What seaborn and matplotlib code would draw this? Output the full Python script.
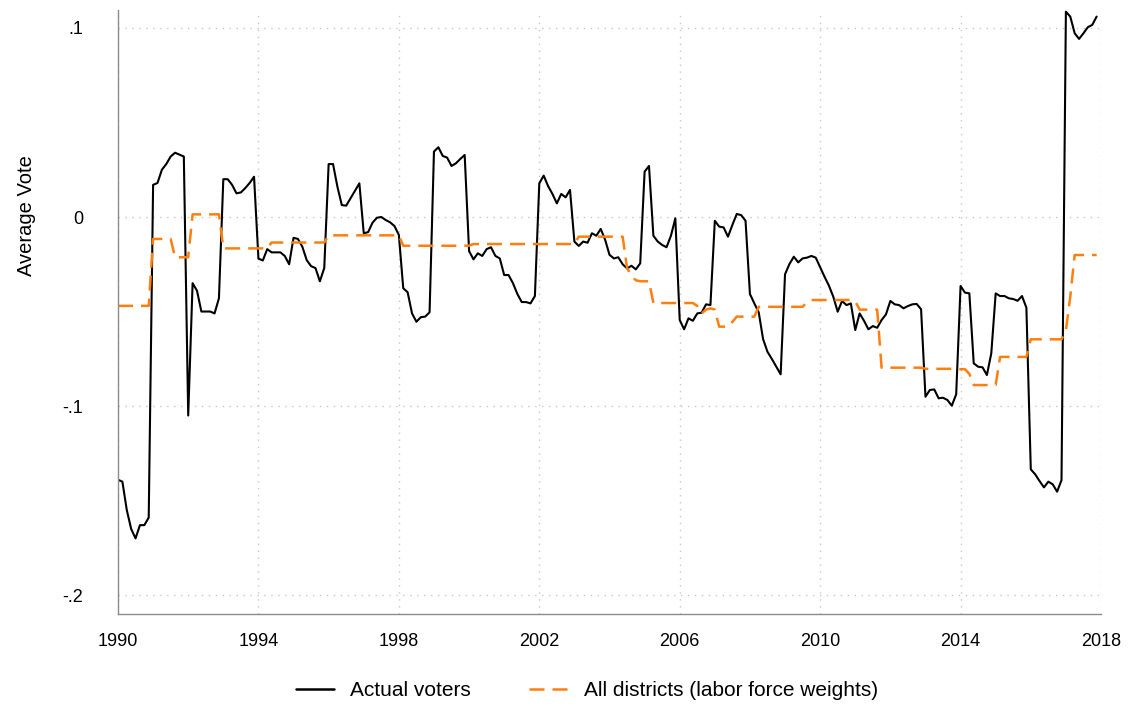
import numpy as np
import pandas as pd
import matplotlib
matplotlib.use("Agg")
import matplotlib.pyplot as plt
import seaborn as sns

# FOMC-style meeting data: 8 meetings per year, 1990-2017
years = list(range(1990, 2018))
meetings_per_year = 8

actual_voters = [
    -0.139, -0.140, -0.155, -0.165, -0.170, -0.163, -0.163, -0.159,   # 1990
    0.017, 0.018, 0.025, 0.028, 0.032, 0.034, 0.033, 0.032,           # 1991
    -0.105, -0.035, -0.039, -0.050, -0.050, -0.050, -0.051, -0.043,   # 1992
    0.020, 0.020, 0.017, 0.0125, 0.013, 0.0153, 0.018, 0.0213,        # 1993
    -0.022, -0.023, -0.017, -0.0187, -0.0187, -0.0187, -0.0206, -0.025,  # 1994
    -0.011, -0.0116, -0.0157, -0.0228, -0.026, -0.027, -0.034, -0.027,   # 1995
    0.028, 0.028, 0.016, 0.0063, 0.006, 0.0099, 0.0138, 0.0178,       # 1996
    -0.0086, -0.008, -0.003, -0.0004, 0.0, -0.0016, -0.0028, -0.0048,  # 1997
    -0.0095, -0.0377, -0.0398, -0.051, -0.0554, -0.053, -0.0527, -0.0504,  # 1998
    0.0346, 0.0369, 0.0323, 0.0314, 0.027, 0.0284, 0.0307, 0.0328,   # 1999
    -0.018, -0.0224, -0.0192, -0.0206, -0.017, -0.016, -0.0206, -0.0219,  # 2000
    -0.0307, -0.0307, -0.035, -0.0407, -0.045, -0.045, -0.0457, -0.0418,  # 2001
    0.0178, 0.0219, 0.0164, 0.0122, 0.0072, 0.0122, 0.0104, 0.0143,  # 2002
    -0.013, -0.0153, -0.013, -0.0136, -0.0086, -0.0099, -0.0063, -0.012,  # 2003
    -0.020, -0.0219, -0.0213, -0.025, -0.0272, -0.0258, -0.0277, -0.0245,  # 2004
    0.024, 0.027, -0.0099, -0.013, -0.0148, -0.016, -0.0099, -0.0007,  # 2005
    -0.0545, -0.0594, -0.0536, -0.0549, -0.051, -0.0506, -0.0462, -0.0466,  # 2006
    -0.002, -0.0051, -0.0055, -0.0104, -0.0042, 0.0016, 0.001, -0.002,  # 2007
    -0.0407, -0.0457, -0.0504, -0.0646, -0.0713, -0.0751, -0.0792, -0.0832,  # 2008
    -0.0303, -0.0249, -0.021, -0.024, -0.0219, -0.0215, -0.0206, -0.0215,  # 2009
    -0.0266, -0.0316, -0.0363, -0.0422, -0.0501, -0.0444, -0.0466, -0.0457,  # 2010
    -0.0598, -0.051, -0.0549, -0.0594, -0.0577, -0.0586, -0.0545, -0.0515,  # 2011
    -0.0444, -0.0462, -0.0466, -0.0483, -0.0471, -0.0462, -0.046, -0.0488,  # 2012
    -0.0951, -0.0915, -0.0912, -0.0959, -0.0956, -0.0968, -0.0998, -0.0938,  # 2013
    -0.0365, -0.040, -0.0404, -0.0774, -0.0792, -0.0795, -0.0836, -0.0721,  # 2014
    -0.0404, -0.0418, -0.0418, -0.043, -0.0434, -0.0443, -0.0418, -0.048,  # 2015
    -0.1335, -0.1361, -0.1397, -0.143, -0.140, -0.1414, -0.1453, -0.1392,  # 2016
    0.1086, 0.106, 0.0972, 0.0942, 0.0972, 0.1004, 0.1016, 0.106,     # 2017
]

all_districts = [
    -0.047, -0.047, -0.047, -0.047, -0.047, -0.047, -0.047, -0.047,   # 1990
    -0.0116, -0.0116, -0.0116, -0.0116, -0.0116, -0.0213, -0.0213, -0.0213,  # 1991
    -0.0213, 0.0014, 0.0014, 0.0014, 0.0014, 0.0014, 0.0014, 0.0014,  # 1992
    -0.0166, -0.0166, -0.0166, -0.0166, -0.0166, -0.0166, -0.0166, -0.0166,  # 1993
    -0.0166, -0.0166, -0.0166, -0.0135, -0.0135, -0.0135, -0.0135, -0.0135,  # 1994
    -0.0135, -0.0135, -0.0135, -0.0135, -0.0135, -0.0135, -0.0135, -0.0135,  # 1995
    -0.0097, -0.0097, -0.0097, -0.0097, -0.0097, -0.0097, -0.0097, -0.0097,  # 1996
    -0.0097, -0.0097, -0.0097, -0.0097, -0.0097, -0.0097, -0.0097, -0.0097,  # 1997
    -0.0097, -0.0152, -0.0152, -0.0152, -0.0152, -0.0152, -0.0152, -0.0152,  # 1998
    -0.0152, -0.0152, -0.0152, -0.0152, -0.0152, -0.0152, -0.0152, -0.0152,  # 1999
    -0.0152, -0.0143, -0.0143, -0.0143, -0.0143, -0.0143, -0.0143, -0.0143,  # 2000
    -0.0143, -0.0143, -0.0143, -0.0143, -0.0143, -0.0143, -0.0143, -0.0143,  # 2001
    -0.0143, -0.0143, -0.0143, -0.0143, -0.0143, -0.0143, -0.0143, -0.0143,  # 2002
    -0.0143, -0.0104, -0.0104, -0.0104, -0.0104, -0.0104, -0.0104, -0.0104,  # 2003
    -0.0104, -0.0104, -0.0104, -0.0104, -0.027, -0.031, -0.0335, -0.034,    # 2004
    -0.034, -0.034, -0.0455, -0.0455, -0.0455, -0.0455, -0.0455, -0.0455,   # 2005
    -0.0455, -0.0455, -0.0455, -0.0455, -0.047, -0.051, -0.049, -0.0483,    # 2006
    -0.049, -0.058, -0.058, -0.058, -0.0555, -0.0527, -0.0527, -0.0527,     # 2007
    -0.0527, -0.0527, -0.0475, -0.0475, -0.0475, -0.0475, -0.0475, -0.0475,  # 2008
    -0.0475, -0.0475, -0.0475, -0.0475, -0.0475, -0.045, -0.0439, -0.0439,  # 2009
    -0.0439, -0.0439, -0.0439, -0.0439, -0.0439, -0.0439, -0.0439, -0.0439,  # 2010
    -0.0445, -0.049, -0.049, -0.049, -0.049, -0.049, -0.0797, -0.0797,      # 2011
    -0.0797, -0.0797, -0.0797, -0.0797, -0.0797, -0.0797, -0.0797, -0.0797,  # 2012
    -0.0803, -0.0803, -0.0803, -0.0803, -0.0803, -0.0803, -0.0803, -0.0803,  # 2013
    -0.0805, -0.0805, -0.083, -0.0889, -0.0889, -0.0889, -0.0889, -0.0889,  # 2014
    -0.0889, -0.074, -0.074, -0.074, -0.074, -0.074, -0.074, -0.074,        # 2015
    -0.0647, -0.0647, -0.0647, -0.0647, -0.0647, -0.0647, -0.0647, -0.0647,  # 2016
    -0.060, -0.042, -0.0201, -0.0201, -0.0201, -0.0201, -0.0201, -0.0201,   # 2017
]

series_names = ["Actual voters", "All districts (labor force weights)"]
series_colors = ["#000000", "#FF7F0E"]

x_ticks = [1990, 1994, 1998, 2002, 2006, 2010, 2014, 2018]
y_ticks = [-0.2, -0.1, 0.0, 0.1]
y_tick_labels = ["-.2", "-.1", "0", ".1"]

# meeting time in decimal years
meeting_time = np.repeat(years, meetings_per_year) + np.tile(
    np.arange(meetings_per_year) / meetings_per_year, len(years))

df = pd.concat([
    pd.DataFrame({"date": meeting_time, "vote": actual_voters, "series": series_names[0]}),
    pd.DataFrame({"date": meeting_time, "vote": all_districts, "series": series_names[1]}),
], ignore_index=True)

sns.set_theme(style="white")
plt.rcParams["font.family"] = ["Liberation Sans", "DejaVu Sans"]
plt.rcParams.update({
    "text.color": "black",
    "axes.labelcolor": "black",
    "xtick.color": "black",
    "ytick.color": "black",
})

fig = plt.figure(figsize=(11.29, 7.06), dpi=100)
ax = fig.add_axes([118 / 1129, (706 - 614) / 706, (1101 - 118) / 1129, (614 - 10) / 706])

sns.lineplot(
    data=df, x="date", y="vote", hue="series", style="series",
    palette=dict(zip(series_names, series_colors)),
    dashes={series_names[0]: "", series_names[1]: (6, 3.2)},
    ax=ax, legend=True, estimator=None,
)
for line, lw in zip(ax.get_lines(), [1.5, 1.8]):
    line.set_linewidth(lw)

ax.set_xlim(1990, 2018)
ax.set_ylim(-0.21, 0.1095)
ax.set_xticks(x_ticks)
ax.set_xticklabels([str(t) for t in x_ticks], fontsize=13)
ax.set_yticks(y_ticks)
ax.set_yticklabels(y_tick_labels, fontsize=13)
ax.set_xlabel("")
ax.set_ylabel("Average Vote", fontsize=14.5, color="black")
ax.yaxis.set_label_coords(-0.083, 0.659)

ax.grid(True, color="#c8c8c8", linestyle=(0, (1, 4)), linewidth=1.0)
for side in ["top", "right"]:
    ax.spines[side].set_visible(False)
for side in ["left", "bottom"]:
    ax.spines[side].set_color("#8c8c8c")
    ax.spines[side].set_linewidth(1.0)
ax.tick_params(axis="both", which="major", direction="out", length=6,
               width=1.0, color="#8c8c8c", labelcolor="black")
ax.tick_params(axis="y", pad=19)
ax.tick_params(axis="x", pad=8)

# move the legend below the plot
handles, labels = ax.get_legend_handles_labels()
ax.get_legend().remove()
leg = fig.legend(handles, labels, loc="center", bbox_to_anchor=(587 / 1129, 1 - 691 / 706),
                 ncol=2, frameon=False, fontsize=15, handlelength=1.8,
                 columnspacing=2.8, handletextpad=0.8, labelcolor="black")
for h in leg.get_lines():
    h.set_linewidth(1.8)

fig.savefig("out.png", dpi=100, facecolor="white")
